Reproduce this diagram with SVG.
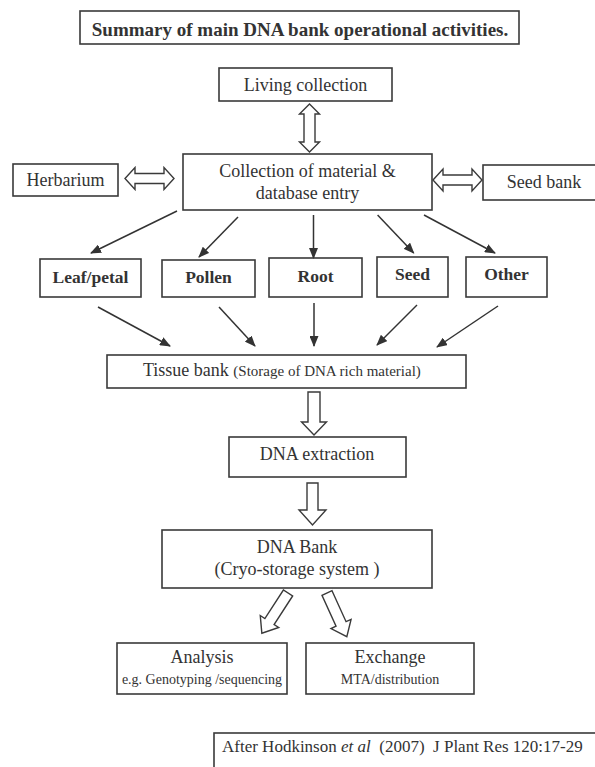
<svg xmlns="http://www.w3.org/2000/svg" width="595" height="767" viewBox="0 0 595 767">
<style>
  .box{fill:#fff;stroke:#3a3a3a;stroke-width:1.6}
  .t{font-family:"Liberation Serif","Times New Roman",serif;font-size:18px;fill:#333;text-anchor:middle}
  .b{font-weight:bold;font-size:17.5px}
  .s{font-size:15px}
  .ln{stroke:#333;stroke-width:1.5;fill:none;marker-end:url(#ah)}
  .ha{fill:#fff;stroke:#3a3a3a;stroke-width:1.4;stroke-linejoin:miter}
</style>
<defs>
  <marker id="ah" markerWidth="11" markerHeight="9" refX="10" refY="4.5" orient="auto" markerUnits="userSpaceOnUse">
    <path d="M0,0 L11,4.5 L0,9 Z" fill="#333"/>
  </marker>
</defs>
<rect width="595" height="767" fill="#fff"/>

<g id="title">
  <rect class="box" x="80" y="11" width="439" height="33"/>
  <text class="t" x="300" y="36" style="font-weight:bold;font-size:19px">Summary of main DNA bank operational activities.</text>
</g>

<g id="living">
  <rect class="box" x="219" y="68" width="173" height="33"/>
  <text class="t" x="305.5" y="91">Living collection</text>
</g>

<g id="herbarium">
  <rect class="box" x="13" y="164" width="105" height="32"/>
  <text class="t" x="65.5" y="186">Herbarium</text>
</g>

<g id="collection">
  <rect class="box" x="183" y="154" width="249" height="56"/>
  <text class="t" x="307.5" y="177">Collection of material &amp;</text>
  <text class="t" x="307.5" y="199">database entry</text>
</g>

<g id="seedbank">
  <rect class="box" x="483" y="165" width="130" height="35"/>
  <text class="t" x="544" y="188">Seed bank</text>
</g>

<g id="leaf">
  <rect class="box" x="40" y="259" width="101" height="38"/>
  <text class="t b" x="90.5" y="283">Leaf/petal</text>
</g>
<g id="pollen">
  <rect class="box" x="162" y="260" width="93" height="37"/>
  <text class="t b" x="208.5" y="283">Pollen</text>
</g>
<g id="root">
  <rect class="box" x="269" y="258" width="93" height="39"/>
  <text class="t b" x="315.5" y="282">Root</text>
</g>
<g id="seed">
  <rect class="box" x="377" y="257" width="71" height="40"/>
  <text class="t b" x="412.5" y="280">Seed</text>
</g>
<g id="other">
  <rect class="box" x="466" y="257" width="81" height="40"/>
  <text class="t b" x="506.5" y="280">Other</text>
</g>

<g id="tissue">
  <rect class="box" x="107" y="355" width="359" height="33"/>
  <text class="t" x="143" y="376" style="text-anchor:start">Tissue bank <tspan class="s">(Storage of DNA rich material)</tspan></text>
</g>

<g id="extraction">
  <rect class="box" x="229" y="437" width="177" height="40"/>
  <text class="t" x="317" y="460">DNA extraction</text>
</g>

<g id="dnabank">
  <rect class="box" x="162" y="530" width="270" height="58"/>
  <text class="t" x="297" y="553">DNA Bank</text>
  <text class="t" x="297" y="575">(Cryo-storage system )</text>
</g>

<g id="analysis">
  <rect class="box" x="117" y="643" width="170" height="51"/>
  <text class="t" x="202" y="663">Analysis</text>
  <text class="t" x="202" y="684" style="font-size:14px">e.g. Genotyping /sequencing</text>
</g>

<g id="exchange">
  <rect class="box" x="306" y="643" width="168" height="51"/>
  <text class="t" x="390" y="663">Exchange</text>
  <text class="t" x="390" y="684" style="font-size:14px">MTA/distribution</text>
</g>

<g id="citation">
  <rect class="box" x="214" y="733" width="400" height="50"/>
  <text class="t" x="222" y="752" style="text-anchor:start;font-size:17px" xml:space="preserve">After Hodkinson <tspan font-style="italic">et al</tspan>  (2007)  J Plant Res 120:17-29</text>
</g>

<g id="connectors">
  <path class="ha" d="M309.5,104 L319.5,114 L315,114 L315,142 L319.5,142 L309.5,152 L299.5,142 L304,142 L304,114 L299.5,114 Z"/>
  <path class="ha" d="M125,178.5 L135,167.5 L135,173.5 L164,173.5 L164,167.5 L174,178.5 L164,189.5 L164,183.5 L135,183.5 L135,189.5 Z"/>
  <path class="ha" d="M433,180 L443,169 L443,175 L472,175 L472,169 L482,180 L472,191 L472,185 L443,185 L443,191 Z"/>

  <line class="ln" x1="177" y1="211" x2="91" y2="253"/>
  <line class="ln" x1="238" y1="217" x2="199" y2="257"/>
  <line class="ln" x1="313.5" y1="215" x2="313.5" y2="258"/>
  <line class="ln" x1="377.6" y1="215" x2="413.7" y2="253"/>
  <line class="ln" x1="424" y1="215" x2="495" y2="253"/>

  <line class="ln" x1="98" y1="307" x2="170" y2="346"/>
  <line class="ln" x1="219" y1="307" x2="255" y2="346"/>
  <line class="ln" x1="314" y1="303" x2="314" y2="346"/>
  <line class="ln" x1="417" y1="305" x2="377" y2="345"/>
  <line class="ln" x1="498" y1="306" x2="437" y2="347"/>

  <path class="ha" d="M308,392 L320,392 L320,422 L326.5,422 L314,435 L301.5,422 L308,422 Z"/>
  <path class="ha" d="M307,483 L318,483 L318,510 L326,510 L312.5,525 L299,510 L307,510 Z"/>

  <path class="ha" transform="translate(288,593) rotate(123)" d="M0,-5.5 L34,-5.5 L34,-11 L48,0 L34,11 L34,5.5 L0,5.5 Z"/>
  <path class="ha" transform="translate(327,593) rotate(65.6)" d="M0,-5.5 L34,-5.5 L34,-11 L48,0 L34,11 L34,5.5 L0,5.5 Z"/>
</g>
</svg>
